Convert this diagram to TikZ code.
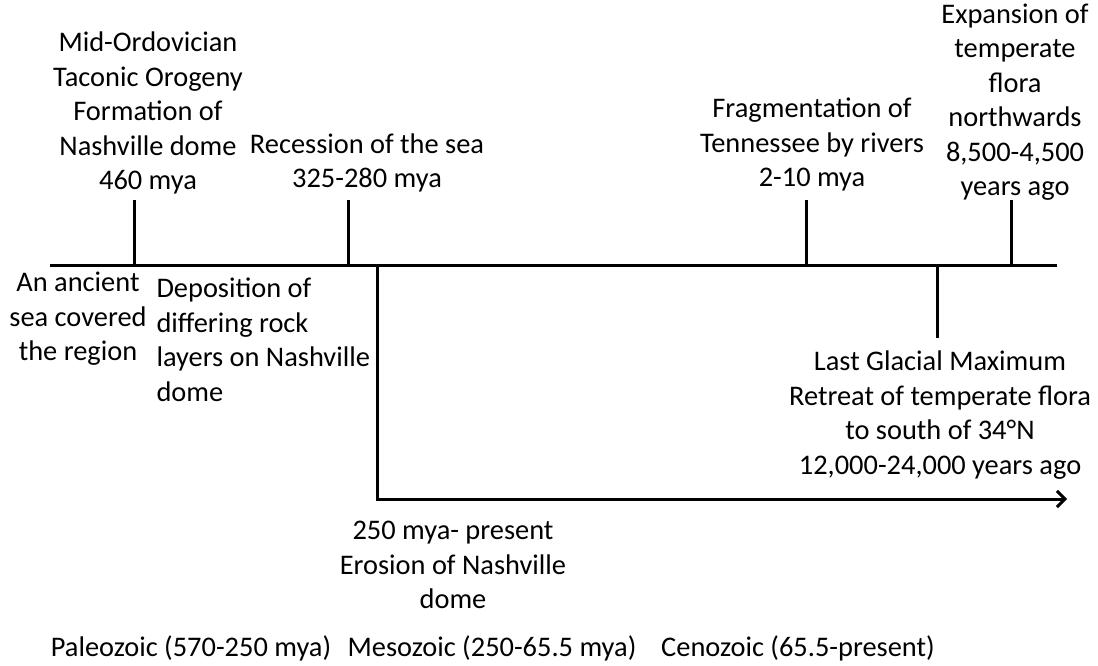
\documentclass[tikz,border=0pt]{standalone}
\usepackage{fontspec}
\setmainfont{Carlito}
\usepackage{tikz}
\usetikzlibrary{arrows.meta}
\usetikzlibrary{positioning}

\begin{document}
\begin{tikzpicture}[x=1pt,y=-1pt,line width=3pt,
    lbl/.style={align=center,inner sep=0pt,font=\fontsize{28.4}{34.5}\selectfont},
    lbl_l/.style={lbl,align=left}]
    \useasboundingbox (0,0) rectangle (1098,665);
    % main time line
    \coordinate (a_0) at (50,265);
    \coordinate (a_1) at (1057,265);
    \draw (a_0) -- (a_1);
    % ticks above the line
    \coordinate (t_0) at (134,265);  \coordinate (t_0e) at (134,200);
    \coordinate (t_1) at (348,265);  \coordinate (t_1e) at (348,200);
    \coordinate (t_2) at (806,265);  \coordinate (t_2e) at (806,200);
    \coordinate (t_3) at (1011,265); \coordinate (t_3e) at (1011,200);
    \draw (t_0) -- (t_0e);
    \draw (t_1) -- (t_1e);
    \draw (t_2) -- (t_2e);
    \draw (t_3) -- (t_3e);
    % tick below the line
    \coordinate (b_0) at (937,265);  \coordinate (b_0e) at (937,338);
    \draw (b_0) -- (b_0e);
    % erosion arrow
    \coordinate (d_0) at (377,265);
    \coordinate (d_1) at (1067,499);
    \draw[-{Straight Barb[length=8pt,width=16pt]}] (d_0) |- (d_1);

    % labels above
    \node[lbl] (ordo)   at (148,113)  {Mid-Ordovician\\Taconic Orogeny\\Formation of\\Nashville dome\\460 mya};
    \node[lbl] (recess) at (367,163)  {Recession of the sea\\325-280 mya};
    \node[lbl] (frag)   at (812,144.5) {Fragmentation of\\Tennessee by rivers\\2-10 mya};
    \node[lbl] (expand) at (1015,102) {Expansion of\\temperate\\flora\\northwards\\8,500-4,500\\years ago};
    % labels below
    \node[lbl]   (ancient) at (78,319)   {An ancient\\sea covered\\the region};
    \node[lbl_l, anchor=west] (depos) at (155,340) {Deposition of\\differing rock\\layers on Nashville\\dome};
    \node[lbl] (lgm)     at (940,415)  {Last Glacial Maximum\\Retreat of temperate flora\\to south of 34°N\\12,000-24,000 years ago};
    \node[lbl] (erosion) at (453,565)  {250 mya- present\\Erosion of Nashville\\dome};
    % eras
    \node[lbl] (paleo) at (191,648) {Paleozoic (570-250 mya)};
    \node[lbl] (meso)  at (492,648) {Mesozoic (250-65.5 mya)};
    \node[lbl] (ceno)  at (798,648) {Cenozoic (65.5-present)};
\end{tikzpicture}
\end{document}
